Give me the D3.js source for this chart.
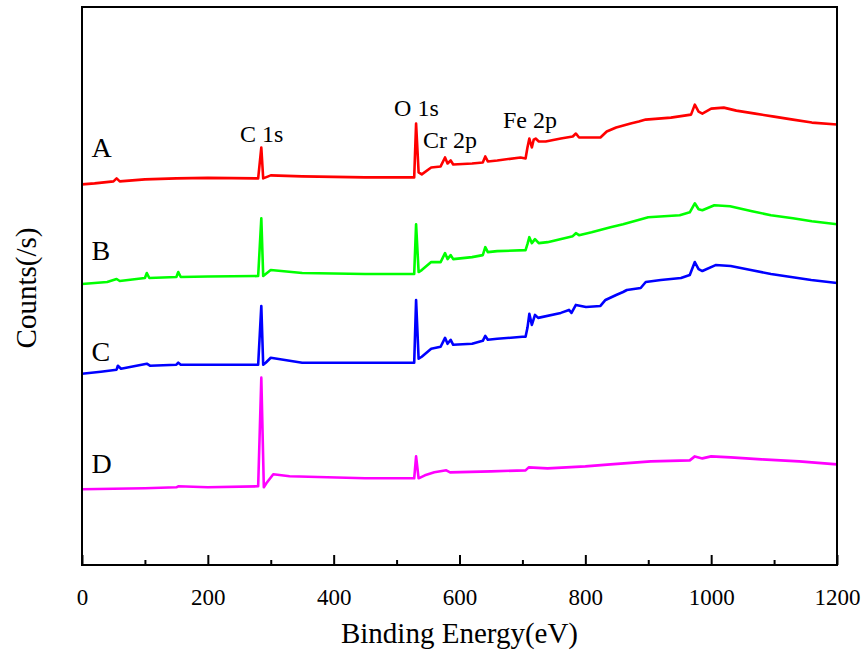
<!DOCTYPE html>
<html>
<head>
<meta charset="utf-8">
<script src="https://cdn.jsdelivr.net/npm/d3@7"></script>
<style>
    body { margin: 0; background: #fff; }
    text { font-family: "Liberation Serif", "Times New Roman", serif; fill: #000; }
</style>
</head>
<body>
<div id="chart"></div>
<script>
// Binding energy (eV), counts(/s) pairs for each sample
const seriesA = [
    [0, 38200], [20, 38300], [50, 38500], [55, 38800], [60, 38500], [100, 38700], [150, 38800],
    [200, 38850], [280, 38800], [285, 41900], [288, 38800], [292, 38900], [300, 39100], [350, 39000],
    [450, 38900], [528, 38900], [531, 44300], [535, 39400], [540, 39200], [555, 39900], [570, 40000],
    [577, 40900], [581, 40300], [586, 40600], [590, 40200], [620, 40300], [637, 40400], [641, 41000],
    [645, 40500], [660, 40600], [697, 40900], [705, 40800], [708, 41900], [711, 42800], [715, 41900],
    [718, 42700], [721, 42800], [726, 42500], [737, 42500], [761, 42800], [780, 43000], [785, 43300],
    [790, 42900], [824, 42900], [834, 43500], [849, 43900], [872, 44300], [885, 44500], [896, 44700],
    [936, 44900], [968, 45200], [974, 46200], [980, 45500], [986, 45300], [1000, 45800], [1020, 45900],
    [1040, 45600], [1070, 45300], [1100, 45000], [1130, 44700], [1160, 44400], [1200, 44200]
];
const seriesB = [
    [0, 28200], [40, 28400], [55, 28700], [60, 28500], [100, 28800], [103, 29300], [107, 28800],
    [150, 28900], [153, 29400], [157, 28900], [200, 28950], [280, 29000], [285, 34800], [288, 29000],
    [292, 29200], [300, 29600], [350, 29300], [450, 29200], [528, 29200], [531, 34200], [535, 29400],
    [540, 29600], [555, 30400], [570, 30400], [577, 31300], [581, 30700], [586, 31100], [590, 30700],
    [620, 30900], [637, 31100], [641, 31900], [645, 31400], [660, 31500], [705, 31600], [708, 32200],
    [711, 32900], [715, 32300], [720, 32700], [726, 32300], [740, 32400], [780, 33000], [785, 33300],
    [790, 33100], [810, 33400], [840, 33900], [860, 34200], [900, 34900], [950, 35100], [966, 35400],
    [974, 36300], [980, 35700], [986, 35600], [1005, 36100], [1030, 36000], [1065, 35500],
    [1095, 35100], [1130, 34800], [1160, 34500], [1200, 34200]
];
const seriesC = [
    [0, 19200], [30, 19400], [55, 19600], [57, 20000], [62, 19700], [103, 20200], [108, 20000],
    [150, 20100], [153, 20300], [157, 20100], [280, 20100], [285, 26000], [288, 20100], [292, 20300],
    [300, 20800], [350, 20300], [528, 20300], [531, 26600], [535, 20700], [540, 20900], [555, 21700],
    [570, 21900], [577, 22800], [581, 22200], [586, 22600], [590, 22100], [620, 22200], [637, 22500],
    [641, 23000], [645, 22600], [660, 22700], [700, 22900], [705, 22900], [708, 23800], [711, 25200],
    [715, 24100], [720, 25100], [725, 24800], [761, 25300], [774, 25600], [778, 25300], [785, 26100],
    [801, 25900], [824, 26000], [832, 26600], [849, 27100], [860, 27400], [866, 27600], [888, 27800],
    [896, 28400], [920, 28600], [952, 28800], [966, 29100], [974, 30400], [980, 29700], [986, 29500],
    [1007, 30100], [1031, 30000], [1063, 29600], [1095, 29200], [1127, 28900], [1159, 28600],
    [1200, 28300]
];
const seriesD = [
    [0, 7600], [100, 7700], [150, 7800], [153, 7900], [200, 7800], [280, 7900], [285, 18800],
    [289, 7800], [293, 8200], [304, 9100], [330, 8900], [450, 8700], [528, 8700], [531, 10900],
    [535, 8700], [545, 9000], [560, 9300], [579, 9500], [585, 9300], [650, 9400], [705, 9500],
    [710, 9800], [740, 9700], [800, 9900], [840, 10100], [904, 10400], [966, 10500], [974, 10900],
    [986, 10700], [1000, 10900], [1031, 10800], [1080, 10600], [1140, 10400], [1200, 10100]
];

const sampleNames = ['A', 'B', 'C', 'D'];
const sampleColors = ['#ff0000', '#00ff00', '#0000ff', '#ff00ff'];
// label anchor: [energy, counts] for sample letters
const sampleLabelPos = [[15, 40900], [15, 30600], [15, 20500], [15, 9200]];

const peakLabels = ['C 1s', 'O 1s', 'Cr 2p', 'Fe 2p'];
const peakLabelPos = [[251, 42500], [496, 45100], [542, 41800], [669, 43900]];

const xMajorTicks = [0, 200, 400, 600, 800, 1000, 1200];
const xMinorTicks = [100, 300, 500, 700, 900, 1100];

// Dimensions
const W = 864, H = 655;
const margin = { top: 7, right: 27, bottom: 90, left: 82 };
const width = W - margin.left - margin.right;
const height = H - margin.top - margin.bottom;

const svg = d3.select('#chart')
    .append('svg')
    .attr('width', W)
    .attr('height', H)
    .append('g')
    .attr('transform', `translate(${margin.left},${margin.top})`);

// Scales
const xScale = d3.scaleLinear().domain([0, 1200]).range([0, width]);
const yScale = d3.scaleLinear().domain([0, 56000]).range([height, 0]);

// Lines
const line = d3.line()
    .x(d => xScale(d[0]))
    .y(d => yScale(d[1]));

const allSeries = [seriesA, seriesB, seriesC, seriesD];
svg.selectAll('path.spectrum')
    .data(allSeries)
    .join('path')
    .attr('class', 'spectrum')
    .attr('d', line)
    .attr('fill', 'none')
    .attr('stroke', (d, i) => sampleColors[i])
    .attr('stroke-width', 2.6)
    .attr('stroke-linejoin', 'round');

// Frame
svg.append('rect')
    .attr('width', width)
    .attr('height', height)
    .attr('fill', 'none')
    .attr('stroke', '#000')
    .attr('stroke-width', 2);

// X axis, ticks pointing inward
const xAxisG = svg.append('g')
    .attr('transform', `translate(0,${height})`)
    .call(d3.axisBottom(xScale).tickValues(xMajorTicks).tickSize(-10).tickPadding(24).tickFormat(d3.format('d')));
xAxisG.select('.domain').remove();
xAxisG.selectAll('line').attr('stroke', '#000').attr('stroke-width', 2);
xAxisG.selectAll('text')
    .style('font-size', '23px')
    .style('font-family', '"Liberation Serif", serif');

const xMinorG = svg.append('g')
    .attr('transform', `translate(0,${height})`)
    .call(d3.axisBottom(xScale).tickValues(xMinorTicks).tickSize(-5).tickFormat(''));
xMinorG.select('.domain').remove();
xMinorG.selectAll('line').attr('stroke', '#000').attr('stroke-width', 2);

// Axis titles
svg.append('text')
    .attr('x', width / 2)
    .attr('y', height + 78)
    .attr('text-anchor', 'middle')
    .style('font-size', '29px')
    .text('Binding Energy(eV)');

svg.append('text')
    .attr('transform', `translate(${-46},${height / 2 + 2}) rotate(-90)`)
    .attr('text-anchor', 'middle')
    .style('font-size', '29px')
    .text('Counts(/s)');

// Sample labels
svg.selectAll('text.sample')
    .data(sampleNames)
    .join('text')
    .attr('class', 'sample')
    .attr('x', (d, i) => xScale(sampleLabelPos[i][0]))
    .attr('y', (d, i) => yScale(sampleLabelPos[i][1]))
    .style('font-size', '28px')
    .text(d => d);

// Peak labels
svg.selectAll('text.peak')
    .data(peakLabels)
    .join('text')
    .attr('class', 'peak')
    .attr('x', (d, i) => xScale(peakLabelPos[i][0]))
    .attr('y', (d, i) => yScale(peakLabelPos[i][1]))
    .style('font-size', '24px')
    .text(d => d);
</script>
</body>
</html>
